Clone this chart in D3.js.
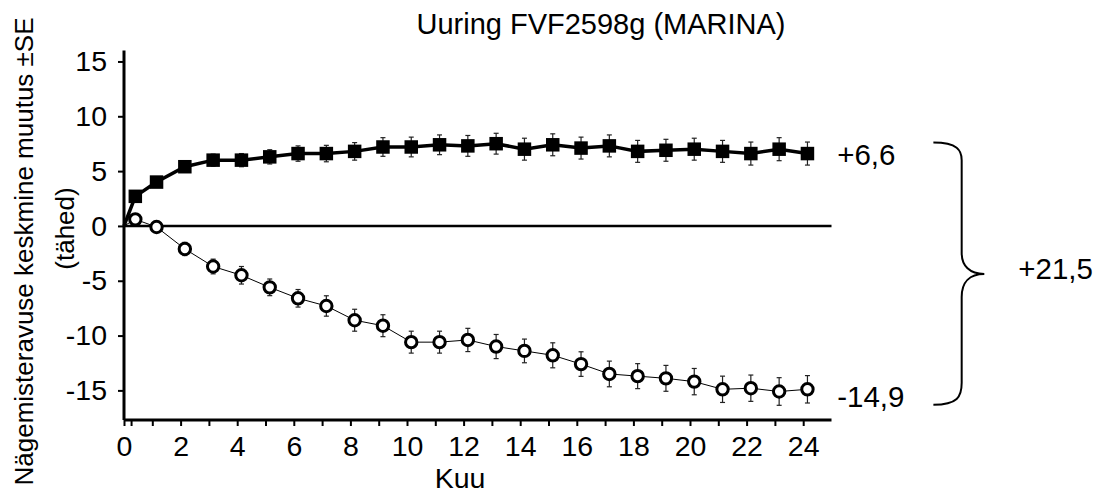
<!DOCTYPE html>
<html><head><meta charset="utf-8">
<script src="https://cdn.jsdelivr.net/npm/d3@7"></script>
<style>
body{margin:0;background:#fff;}
svg text{font-family:"Liberation Sans",Arial,sans-serif;fill:#000;}
</style></head>
<body><svg id="c" width="1115" height="495"></svg>
<script>
// ---- data ----
const months = [0.4, 1.15, 2.15, 3.15, 4.15, 5.15, 6.15, 7.15, 8.15, 9.15, 10.15, 11.15, 12.15,
  13.15, 14.15, 15.15, 16.15, 17.15, 18.15, 19.15, 20.15, 21.15, 22.15, 23.15, 24.15];
const ranibizumab = [2.7, 4.0, 5.4, 6.0, 6.0, 6.3, 6.6, 6.6, 6.8, 7.2, 7.2, 7.4, 7.3,
  7.5, 7.0, 7.4, 7.1, 7.3, 6.8, 6.9, 7.0, 6.8, 6.6, 7.0, 6.6];
const ranibizumabSE = [0.3, 0.4, 0.5, 0.55, 0.6, 0.65, 0.7, 0.75, 0.8, 0.85, 0.9, 0.9, 0.95,
  0.95, 1.0, 1.0, 1.0, 1.0, 1.0, 1.0, 1.0, 1.0, 1.05, 1.05, 1.05];
const sham = [0.6, -0.1, -2.1, -3.7, -4.5, -5.6, -6.6, -7.3, -8.6, -9.1, -10.6, -10.6, -10.4,
  -11.0, -11.4, -11.8, -12.6, -13.5, -13.7, -13.9, -14.2, -14.9, -14.8, -15.1, -14.9];
const shamSE = [0.3, 0.4, 0.6, 0.67, 0.8, 0.76, 0.8, 0.93, 1.0, 1.0, 1.0, 1.0, 1.06,
  1.1, 1.08, 1.14, 1.12, 1.17, 1.14, 1.18, 1.2, 1.2, 1.2, 1.26, 1.25];
const xTicks = [0, 0.25, 1, 2, 3, 4, 5, 6, 7, 8, 9, 10, 11, 12, 13, 14, 15, 16, 17, 18, 19, 20, 21, 22, 23, 24];
const xTickLabels = [0, 2, 4, 6, 8, 10, 12, 14, 16, 18, 20, 22, 24];
const yTicks = [-15, -10, -5, 0, 5, 10, 15];
const title = "Uuring FVF2598g (MARINA)";
const yLabel1 = "Nägemisteravuse keskmine muutus ±SE";
const yLabel2 = "(tähed)";
const xLabel = "Kuu";
const endLabels = ["+6,6", "-14,9"];
const diffLabel = "+21,5";

// ---- scales ----
const svg = d3.select("#c");
const x = d3.scaleLinear().domain([0, 25]).range([124, 831.5]);
const y = d3.scaleLinear().domain([-17.7, 16]).range([420, 50.5]);
const FS = 28.5;
const fmt = d => String(d);  // plain hyphen-minus

// axes
const yAxis = svg.append("g").attr("transform", `translate(${x(0)},0)`)
  .call(d3.axisLeft(y).tickValues(yTicks).tickSize(6).tickPadding(11).tickFormat(fmt));
const xAxis = svg.append("g").attr("transform", `translate(0,${y(-17.7)})`)
  .call(d3.axisBottom(x).tickValues(xTicks).tickSize(6).tickFormat(d => xTickLabels.includes(d) ? fmt(d) : ""));
[yAxis, xAxis].forEach(g => {
  g.attr("font-size", FS).attr("font-family", "Liberation Sans, Arial, sans-serif");
  g.select(".domain").attr("stroke", "#000").attr("stroke-width", 3);
  g.selectAll(".tick line").attr("stroke", "#000").attr("stroke-width", 2);
  g.selectAll("text").attr("fill", "#000");
});
yAxis.select(".domain").attr("d", `M0,${y(16)}V${y(-17.7)}`);
xAxis.select(".domain").attr("d", `M${x(0)},0H${x(25)}`);
xAxis.selectAll(".tick text").attr("dy", null).attr("y", 36);

// zero line
svg.append("line").attr("x1", x(0)).attr("x2", x(25)).attr("y1", y(0)).attr("y2", y(0))
  .attr("stroke", "#000").attr("stroke-width", 2.5);

// series
const line = d3.line().x(d => x(d[0])).y(d => y(d[1]));
const ptsR = [[0, 0]].concat(months.map((m, i) => [m, ranibizumab[i]]));
const ptsS = [[0, 0]].concat(months.map((m, i) => [m, sham[i]]));

function errorBars(vals, se, cls) {
  const g = svg.append("g").attr("class", cls).attr("stroke", "#222").attr("stroke-width", 1.2);
  months.forEach((m, i) => {
    const cx = x(m), y1 = y(vals[i] + se[i]), y2 = y(vals[i] - se[i]);
    g.append("line").attr("x1", cx).attr("x2", cx).attr("y1", y1).attr("y2", y2);
    g.append("line").attr("x1", cx - 2.5).attr("x2", cx + 2.5).attr("y1", y1).attr("y2", y1);
    g.append("line").attr("x1", cx - 2.5).attr("x2", cx + 2.5).attr("y1", y2).attr("y2", y2);
  });
}
errorBars(sham, shamSE, "errS");
errorBars(ranibizumab, ranibizumabSE, "errR");

svg.append("path").attr("d", line(ptsS)).attr("fill", "none").attr("stroke", "#000").attr("stroke-width", 1);
svg.append("path").attr("d", line(ptsR)).attr("fill", "none").attr("stroke", "#000").attr("stroke-width", 3.5);

svg.append("g").selectAll("circle").data(months).join("circle")
  .attr("cx", d => x(d)).attr("cy", (d, i) => y(sham[i])).attr("r", 5.7)
  .attr("fill", "#fff").attr("stroke", "#000").attr("stroke-width", 3);
const S = 13.5;
svg.append("g").selectAll("rect").data(months).join("rect")
  .attr("x", d => x(d) - S / 2).attr("y", (d, i) => y(ranibizumab[i]) - S / 2)
  .attr("width", S).attr("height", S).attr("fill", "#000");

// titles
svg.append("text").attr("x", 601).attr("y", 34).attr("text-anchor", "middle")
  .attr("font-size", 29).text(title);
svg.append("text").attr("transform", "translate(33,251.5) rotate(-90)").attr("text-anchor", "middle")
  .attr("font-size", 26).text(yLabel1);
svg.append("text").attr("transform", "translate(74,228.5) rotate(-90)").attr("text-anchor", "middle")
  .attr("font-size", 26).text(yLabel2);
svg.append("text").attr("x", 460).attr("y", 488).attr("text-anchor", "middle")
  .attr("font-size", FS).text(xLabel);

// end labels + brace
svg.append("text").attr("x", x(25.2)).attr("y", y(5.57)).attr("font-size", 29.5).text(endLabels[0]);
svg.append("text").attr("x", x(25.2)).attr("y", y(-16.5)).attr("font-size", 29.5).text(endLabels[1]);
svg.append("text").attr("x", x(31.6)).attr("y", y(-4.84)).attr("font-size", 29.5).text(diffLabel);

const bx0 = x(28.6), bx1 = x(29.6), bx2 = x(30.4);
const by0 = y(7.6), bya = y(6.0), byb = y(-2.46), bym = y(-4.38), byc = y(-6.48), byd = y(-14.3), by1 = y(-16.3);
const brace = `M${bx0},${by0} C${bx1 - 4},${by0} ${bx1},${by0 + 8} ${bx1},${bya}`
  + ` L${bx1},${byb} C${bx1},${bym - 8} ${bx1 + 8},${bym} ${bx2},${bym}`
  + ` C${bx1 + 8},${bym} ${bx1},${bym + 8} ${bx1},${byc}`
  + ` L${bx1},${byd} C${bx1},${by1 - 8} ${bx1 - 4},${by1} ${bx0},${by1}`;
svg.append("path").attr("d", brace).attr("fill", "none").attr("stroke", "#000").attr("stroke-width", 2);
</script></body></html>
